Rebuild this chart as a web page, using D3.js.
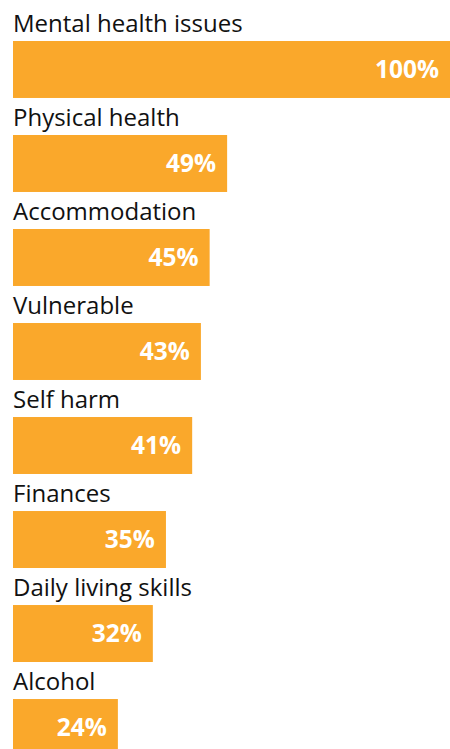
<!DOCTYPE html>
<html>
<head>
<meta charset="utf-8">
<script src="https://cdn.jsdelivr.net/npm/d3@7"></script>
<style>
  html, body { margin: 0; padding: 0; background: #fff; }
  svg { display: block; }
</style>
</head>
<body>
<div id="chart"></div>
<script>
// Support needs reported, share of people (%)
const categories = [
  "Mental health issues",
  "Physical health",
  "Accommodation",
  "Vulnerable",
  "Self harm",
  "Finances",
  "Daily living skills",
  "Alcohol"
];
const values = [100, 49, 45, 43, 41, 35, 32, 24];

const width = 450, height = 749;
const barColor = "#FAA82B";
const fontFamily = "'Open Sans', 'Noto Sans', sans-serif";

const data = categories.map((c, i) => ({ category: c, value: values[i] }));

const svg = d3.select("#chart").append("svg")
  .attr("width", width)
  .attr("height", height);

const x = d3.scaleLinear().domain([0, 100]).range([13, 450]);
const y = d3.scaleBand()
  .domain(categories)
  .range([41, 756])
  .paddingInner(0.394)
  .paddingOuter(0);

const rows = svg.selectAll("g.row")
  .data(data)
  .join("g")
  .attr("class", "row");

// bars
rows.append("rect")
  .attr("x", x(0))
  .attr("y", d => y(d.category))
  .attr("width", d => x(d.value) - x(0))
  .attr("height", y.bandwidth())
  .attr("fill", barColor);

// category label above each bar
rows.append("text")
  .attr("x", x(0))
  .attr("y", d => y(d.category) - 9)
  .attr("font-family", fontFamily)
  .attr("font-size", 24)
  .attr("fill", "#111")
  .text(d => d.category);

// value label inside bar end
rows.append("text")
  .attr("x", d => x(d.value) - 11)
  .attr("y", d => y(d.category) + y.bandwidth() / 2)
  .attr("dy", "0.36em")
  .attr("text-anchor", "end")
  .attr("font-family", fontFamily)
  .attr("font-weight", 700)
  .attr("font-size", 24.5)
  .attr("fill", "#fff")
  .text(d => d.value + "%");
</script>
</body>
</html>
